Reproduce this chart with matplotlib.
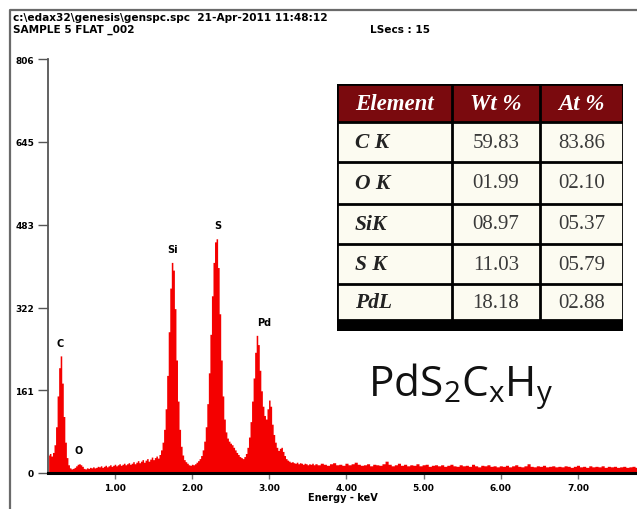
import numpy as np
import matplotlib
matplotlib.use('Agg')
import matplotlib.pyplot as plt
from matplotlib.patches import Rectangle
from matplotlib.lines import Line2D

W, H = 637, 510

# 能谱计数：0.14 keV 起，每 0.02 keV 一个通道
counts_low = [
    35, 38, 33, 40, 55, 90, 150, 205, 228, 175,
    110, 60, 30, 16, 10, 8, 9, 11, 14, 17,
    18, 16, 13, 9, 8, 10, 9, 11, 10, 12,
    10, 11, 13, 12, 14, 11, 13, 15, 12, 14,
    16, 13, 15, 17, 14, 16, 18, 15, 17, 19,
    16, 18, 20, 17, 19, 22, 18, 21, 24, 20,
    23, 26, 21, 25, 28, 23, 27, 31, 26, 30,
    33, 29, 36, 45, 60, 85, 125, 190, 275, 360,
    410, 395, 320, 220, 140, 85, 52, 35, 26, 22,
    19, 16, 15, 17, 16, 18, 21, 24, 28, 34,
    45, 62, 90, 135, 195, 270, 345, 410, 450, 456,
    400, 310, 220, 150, 105, 80, 68, 62, 58, 55,
    50, 45, 40, 36, 32, 30, 28, 32, 38, 50,
    70, 100, 140, 185, 235, 268, 250, 200, 160, 130,
    112, 105, 125, 142, 130, 95, 75, 60, 50, 44,
    48, 50, 42, 34, 28, 25, 23, 21, 22, 20,
    19, 21, 18, 20, 19, 17, 19, 18, 16, 18,
    17, 19, 16,
]
# 3.60 keV 之后，每 0.04 keV 一个通道
counts_high = [
    18, 16, 19, 17, 15, 18, 20, 16, 17, 15, 19, 16, 18, 21, 17, 15, 16, 18, 14, 17,
    16, 15, 18, 23, 17, 14, 16, 19, 15, 17, 14, 16, 15, 18, 14, 16, 17, 13, 15, 16,
    14, 16, 13, 15, 17, 14, 13, 16, 14, 15, 13, 17, 14, 12, 15, 14, 16, 13, 14, 12,
    14, 13, 15, 12, 14, 16, 13, 12, 14, 18, 13, 12, 14, 13, 15, 12, 13, 14, 12, 13,
    12, 14, 13, 11, 13, 15, 12, 13, 11, 14, 12, 13, 12, 14, 11, 13, 12, 13, 11, 12,
    13, 11, 12, 13, 11,
]

y_ticks = [0, 161, 322, 483, 645, 806]
x_ticks = [1, 2, 3, 4, 5, 6, 7]
x_tick_labels = ['1.00', '2.00', '3.00', '4.00', '5.00', '6.00', '7.00']

peak_names = ['C', 'O', 'Si', 'S', 'Pd']
peak_kev = [0.29, 0.53, 1.75, 2.33, 2.93]

# 元素含量表
col_names = ['Element', 'Wt %', 'At %']
elements = ['C K', 'O K', 'SiK', 'S K', 'PdL']
wt_pct = ['59.83', '01.99', '08.97', '11.03', '18.18']
at_pct = ['83.86', '02.10', '05.37', '05.79', '02.88']

e_low = 0.14 + 0.02 * np.arange(len(counts_low))
e_high = e_low[-1] + 0.02 + 0.04 * np.arange(len(counts_high))
energy = np.concatenate([e_low, e_high])
counts = np.array(counts_low + counts_high, dtype=float)


def px_axes(fig, x0, y0, x1, y1):
    return fig.add_axes([x0 / W, 1 - y1 / H, (x1 - x0) / W, (y1 - y0) / H])


fig = plt.figure(figsize=(W / 100, H / 100), dpi=100)
fig.patch.set_facecolor('white')

# 外框
fig.add_artist(Line2D([10 / W, 10 / W, 1.0], [0.0, 1 - 11 / H, 1 - 11 / H],
                      transform=fig.transFigure, color='#6a6a6a', lw=1.6))

bold = dict(fontfamily='DejaVu Sans', fontweight='bold')
fig.text(13 / W, 1 - 18 / H, r'c:\edax32\genesis\genspc.spc  21-Apr-2011 11:48:12',
         fontsize=7.6, va='center', ha='left', **bold)
fig.text(13 / W, 1 - 30 / H, 'SAMPLE 5 FLAT _002', fontsize=7.6, va='center', ha='left', **bold)
fig.text(370 / W, 1 - 30 / H, 'LSecs : 15', fontsize=7.6, va='center', ha='left', **bold)

# 能谱
ax = px_axes(fig, 48, 60, 637, 474)
ax.fill_between(energy, counts, step='mid', color='#f40000', lw=0)
ax.set_xlim(0.132, 7.765)
ax.set_ylim(0, 806)

for sp in ['top', 'right']:
    ax.spines[sp].set_visible(False)
ax.spines['left'].set_color('#555555')
ax.spines['left'].set_linewidth(1.3)
ax.spines['bottom'].set_color('black')
ax.spines['bottom'].set_linewidth(2.2)

ax.set_yticks(y_ticks)
ax.set_yticklabels([str(v) for v in y_ticks])
ax.set_xticks(x_ticks)
ax.set_xticklabels(x_tick_labels)
ax.tick_params(axis='y', direction='out', length=7, width=1, color='#555555', pad=3)
ax.tick_params(axis='x', direction='out', length=4.5, width=1, color='#777777', pad=3)
for lab in ax.get_xticklabels() + ax.get_yticklabels():
    lab.set_fontsize(6.5)
    lab.set_fontweight('bold')
ax.set_xlabel('Energy - keV', fontsize=7, fontweight='bold', labelpad=0)

# 峰标注：放在附近最高通道上方
for name, kev in zip(peak_names, peak_kev):
    near = np.abs(energy - kev) < 0.1
    top = counts[near].max()
    ax.annotate(name, (kev, top), xytext=(0, 6), textcoords='offset points',
                ha='center', va='bottom', fontsize=7, **bold)

# 化学式
plt.rcParams['mathtext.fontset'] = 'custom'
plt.rcParams['mathtext.rm'] = 'Open Sans'
fig.text(368 / W, 1 - 396 / H, r'PdS$_\mathrm{2}$C$_\mathrm{x}$H$_\mathrm{y}$',
         fontfamily='Open Sans', fontsize=30.5, ha='left', va='baseline', color='#111111')

# 元素含量表
tax = px_axes(fig, 337, 85, 623, 332)
tax.set_xlim(0, 286)
tax.set_ylim(247, 0)
tax.axis('off')
col_edges = [0, 114.5, 203, 286]
row_edges = [0, 38, 78, 120, 160, 200, 236]

tax.add_patch(Rectangle((0, 0), 286, 38, facecolor='#7a0a0e', edgecolor='none'))
tax.add_patch(Rectangle((0, 38), 286, 198, facecolor='#fcfbf1', edgecolor='none'))
tax.add_patch(Rectangle((0, 236), 286, 11, facecolor='black', edgecolor='none'))
for x in col_edges:
    tax.plot([x, x], [0, 247], color='black', lw=2)
for y in row_edges:
    tax.plot([0, 286], [y, y], color='black', lw=2)

serif = 'Liberation Serif'
cx = [18, (col_edges[1] + col_edges[2]) / 2, (col_edges[2] + col_edges[3]) / 2]
for j, name in enumerate(col_names):
    tax.text(cx[j], 19, name, ha='left' if j == 0 else 'center', va='center',
             fontfamily=serif, fontstyle='italic', fontweight='bold',
             fontsize=16.5, color='white')
for i, (el, wt, at) in enumerate(zip(elements, wt_pct, at_pct)):
    yc = (row_edges[i + 1] + row_edges[i + 2]) / 2
    tax.text(cx[0], yc, el, ha='left', va='center', fontfamily=serif,
             fontstyle='italic', fontweight='bold', fontsize=15.5, color='#222222')
    tax.text(cx[1], yc, wt, ha='center', va='center', fontfamily=serif,
             fontsize=15, color='#3a3a3a')
    tax.text(cx[2], yc, at, ha='center', va='center', fontfamily=serif,
             fontsize=15, color='#3a3a3a')

fig.savefig('out.png', dpi=100)
